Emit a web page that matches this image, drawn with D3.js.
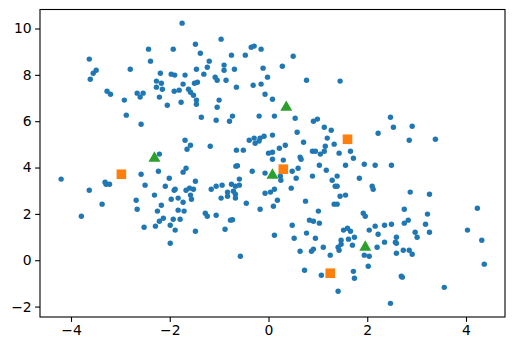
<!DOCTYPE html>
<html>
<head>
<meta charset="utf-8">
<script src="https://cdn.jsdelivr.net/npm/d3@7"></script>
<style>
  body { margin: 0; background: #fff; }
  svg { display: block; font-family: "DejaVu Sans", sans-serif; }
</style>
</head>
<body>
<svg width="515" height="351"></svg>
<script>
// blue points: [x, y]
const points = [
  [-1.75, 10.23], [-3.63, 8.68], [-2.43, 9.11], [-1.93, 9.11], [-1.48, 9.32], [-1.38, 8.93],
  [-2.39, 8.59], [-3.49, 8.20], [-3.55, 8.07], [-3.61, 7.81], [-2.80, 8.24], [-2.19, 8.07],
  [-1.97, 8.03], [-1.90, 7.99], [-1.69, 7.99], [-1.46, 8.24], [-1.31, 8.03], [-2.27, 7.73],
  [-2.17, 7.64], [-2.27, 7.47], [-2.15, 7.38], [-1.73, 7.60], [-1.50, 7.64], [-1.44, 7.68],
  [-1.91, 7.29], [-1.81, 7.34], [-1.62, 7.38], [-1.58, 7.25], [-1.52, 7.12], [-1.46, 6.91],
  [-1.46, 6.73], [-3.27, 7.29], [-3.20, 7.16], [-2.66, 7.21], [-2.54, 7.21], [-2.60, 7.04],
  [-2.92, 6.91], [-2.21, 7.04], [-2.05, 6.69], [-1.77, 6.82], [-1.36, 6.17], [-2.88, 6.26],
  [-2.58, 5.87], [-1.69, 5.18], [-1.58, 4.96], [-1.65, 4.79], [-2.21, 4.58],
  [-0.96, 9.54], [-0.75, 8.85], [-1.20, 8.59], [-1.24, 8.33], [-0.90, 8.42], [-0.90, 8.20],
  [-0.69, 8.24], [-1.08, 7.90], [-1.04, 7.77], [-0.86, 7.77], [-0.65, 7.47], [-0.35, 9.19],
  [-0.29, 9.24], [-0.15, 9.11], [-0.47, 8.85], [0.50, 8.80], [-0.11, 8.29], [0.28, 8.37],
  [-0.02, 7.90], [-0.31, 7.55], [-0.15, 7.60], [0.77, 7.77], [1.45, 7.73], [-0.07, 7.16],
  [0.08, 6.95], [-1.00, 6.91], [-1.04, 6.60], [-0.73, 6.22], [-0.79, 6.00], [-1.06, 6.04],
  [-0.19, 6.22], [0.12, 6.22], [0.54, 6.13], [0.91, 6.00], [0.99, 6.09], [1.13, 5.74],
  [1.27, 5.61], [0.58, 5.52], [0.08, 5.40], [-0.39, 5.18], [-0.29, 5.27], [-0.17, 5.27],
  [-0.09, 5.35], [-0.27, 5.05], [-0.19, 5.14], [-1.18, 4.92], [-0.65, 4.75], [-0.51, 4.75],
  [0.00, 4.62], [0.08, 4.66], [0.22, 4.83], [0.34, 4.96], [0.08, 4.36], [0.30, 4.32],
  [0.71, 5.09], [0.64, 4.45], [0.66, 4.36], [0.89, 4.70], [0.95, 4.70], [1.05, 4.58],
  [1.13, 4.70], [1.15, 4.92], [1.19, 5.27], [1.33, 5.01], [1.43, 4.62], [1.66, 4.70],
  [1.72, 4.40], [1.03, 4.10], [1.56, 4.10],
  [2.47, 6.17], [2.53, 5.74], [2.91, 5.78], [2.22, 5.48], [2.85, 5.18], [3.38, 5.22],
  [1.94, 4.14], [2.16, 4.10], [2.49, 4.10],
  [-4.20, 3.50], [-3.63, 3.02], [-3.31, 3.37], [-3.29, 3.28], [-3.22, 3.28], [-2.58, 3.71],
  [-2.23, 3.84], [-2.01, 3.54], [-1.73, 3.80], [-1.67, 3.97], [-2.50, 3.24], [-2.09, 3.19],
  [-1.91, 3.02], [-1.89, 3.06], [-1.67, 3.02], [-1.60, 3.11], [-1.52, 3.06], [-1.48, 3.41],
  [-1.58, 2.81], [-1.56, 2.63], [-2.31, 2.81], [-1.97, 2.63], [-1.83, 2.68], [-1.73, 2.50],
  [-2.68, 2.59], [-3.37, 2.42], [-2.17, 2.37], [-2.66, 2.20], [-2.25, 2.12], [-1.83, 2.16],
  [-1.71, 2.12], [-3.79, 1.90], [-2.13, 1.81], [-2.21, 1.68], [-1.93, 1.77], [-1.79, 1.77],
  [-1.28, 2.03], [-2.52, 1.42], [-2.29, 1.47], [-1.99, 1.51], [-1.89, 1.30], [-1.48, 1.25],
  [-1.99, 0.73],
  [-0.66, 4.06], [-0.63, 4.08], [-0.33, 3.84], [-0.07, 3.76], [0.48, 3.84], [0.60, 3.97],
  [1.17, 3.88], [0.89, 3.63], [1.39, 3.63], [1.29, 3.45], [1.35, 3.19], [1.39, 3.19],
  [0.24, 3.63], [0.25, 3.45], [0.56, 3.54], [0.46, 3.11], [0.12, 3.06], [0.04, 2.94],
  [-0.07, 2.89], [0.18, 2.59], [0.10, 2.33], [-0.17, 2.20], [-0.45, 2.46], [-0.59, 3.50],
  [-0.59, 3.24], [-0.67, 3.19], [-0.75, 3.28], [-0.94, 3.24], [-1.06, 3.19], [-1.16, 3.06],
  [-0.83, 2.94], [-0.83, 2.76], [-0.71, 2.98], [-0.67, 2.85], [-0.67, 2.68], [-0.96, 2.68],
  [-1.24, 1.90], [-1.06, 1.94], [-0.77, 1.73], [-0.73, 1.75], [-0.88, 1.34], [0.12, 1.08],
  [-0.57, 0.17], [0.75, 2.55], [1.01, 2.12], [0.83, 1.73], [0.91, 1.68], [1.03, 1.60],
  [0.48, 1.51], [0.77, 1.17], [0.52, 0.95], [0.95, 0.95], [0.64, 0.39], [0.87, 0.39],
  [0.91, 0.48], [1.11, 0.56], [1.25, 0.22], [1.52, 1.30], [1.60, 1.38], [1.66, 1.25],
  [1.47, 0.86], [1.62, 0.91], [1.47, 0.69], [1.41, 0.56], [1.43, 0.43], [1.70, 0.65],
  [1.74, 0.99], [0.73, -0.43], [1.07, -0.65], [1.72, -0.48], [1.74, -0.78], [1.41, -1.34],
  [1.45, 2.76], [1.56, 2.81], [1.33, 2.42], [1.39, 2.42],
  [1.84, 3.54], [2.10, 3.19], [2.12, 3.06], [2.87, 2.94], [3.26, 2.85], [1.92, 2.03],
  [1.96, 1.90], [2.75, 2.20], [3.22, 1.99], [4.23, 2.24], [2.83, 1.73], [2.75, 1.60],
  [3.18, 1.55], [2.04, 1.30], [2.16, 1.47], [2.35, 1.51], [2.49, 1.55], [2.22, 1.12],
  [2.97, 1.21], [3.01, 0.99], [3.26, 1.21], [4.03, 1.30], [1.94, 0.22], [2.04, 0.17],
  [2.20, 0.56], [2.35, 0.78], [2.59, 0.99], [2.57, 0.78], [2.59, 0.73], [2.59, 0.30],
  [2.73, 0.43], [2.85, 0.43], [2.91, 0.26], [4.32, 0.86], [2.02, -0.26], [2.69, -0.69],
  [2.71, -0.73], [4.37, -0.17], [3.56, -1.17], [2.47, -1.86]
];

// orange squares
const squares = [[-2.98, 3.71], [0.30, 3.93], [1.60, 5.22], [1.25, -0.56]];
// green triangles
const triangles = [[-2.31, 4.40], [0.36, 6.60], [0.08, 3.67], [1.96, 0.56]];

const xTicks = [-4, -2, 0, 2, 4];
const yTicks = [-2, 0, 2, 4, 6, 8, 10];

const svg = d3.select("svg");
const margin = { top: 9.5, right: 10, bottom: 34, left: 40 };
const W = 515, H = 351;

const x = d3.scaleLinear().domain([-4.628, 4.79]).range([margin.left, W - margin.right]);
const y = d3.scaleLinear().domain([-2.45, 10.82]).range([H - margin.bottom, margin.top]);

const fmt = d => d3.format("d")(d);

svg.append("g")
  .attr("transform", `translate(0,${H - margin.bottom})`)
  .call(d3.axisBottom(x).tickValues(xTicks).tickSize(4.9).tickPadding(3.5).tickFormat(fmt))
  .call(g => g.select(".domain").remove())
  .call(g => g.selectAll("text").attr("font-size", 13.9).attr("fill", "#000").attr("font-family", "DejaVu Sans"))
  .call(g => g.selectAll("line").attr("stroke", "#000").attr("stroke-width", 1.1));

svg.append("g")
  .attr("transform", `translate(${margin.left},0)`)
  .call(d3.axisLeft(y).tickValues(yTicks).tickSize(4.9).tickPadding(3.5).tickFormat(fmt))
  .call(g => g.select(".domain").remove())
  .call(g => g.selectAll("text").attr("font-size", 13.9).attr("fill", "#000").attr("font-family", "DejaVu Sans"))
  .call(g => g.selectAll("line").attr("stroke", "#000").attr("stroke-width", 1.1));

svg.append("g")
  .selectAll("circle")
  .data(points)
  .enter().append("circle")
  .attr("cx", d => x(d[0]))
  .attr("cy", d => y(d[1]))
  .attr("r", 2.7)
  .attr("fill", "#1f77b4");

const sq = 9.6;
svg.append("g")
  .selectAll("rect")
  .data(squares)
  .enter().append("rect")
  .attr("x", d => x(d[0]) - sq / 2)
  .attr("y", d => y(d[1]) - sq / 2)
  .attr("width", sq)
  .attr("height", sq)
  .attr("fill", "#ff7f0e");

const tri = d3.symbol().type(d3.symbolTriangle).size(62);
svg.append("g")
  .selectAll("path")
  .data(triangles)
  .enter().append("path")
  .attr("d", tri)
  .attr("transform", d => `translate(${x(d[0])},${y(d[1])})`)
  .attr("fill", "#2ca02c");

// frame
svg.append("rect")
  .attr("x", margin.left)
  .attr("y", margin.top)
  .attr("width", W - margin.left - margin.right)
  .attr("height", H - margin.top - margin.bottom)
  .attr("fill", "none")
  .attr("stroke", "#000")
  .attr("stroke-width", 1.1);
</script>
</body>
</html>
